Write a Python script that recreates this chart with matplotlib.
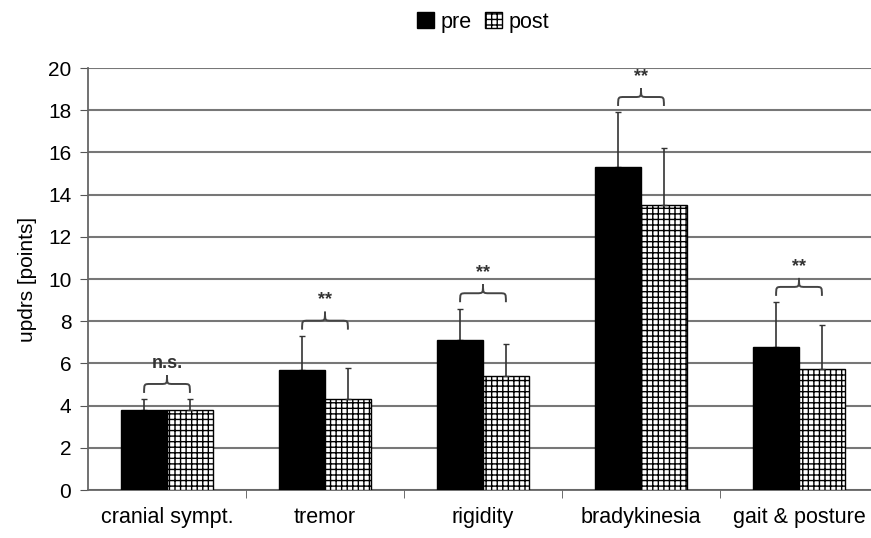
import numpy as np
import matplotlib
matplotlib.use('Agg')
import matplotlib.pyplot as plt
from matplotlib.path import Path
from matplotlib.patches import PathPatch

categories = ['cranial sympt.', 'tremor', 'rigidity', 'bradykinesia', 'gait & posture']
pre = [3.8, 5.7, 7.1, 15.3, 6.8]
post = [3.8, 4.3, 5.4, 13.5, 5.75]
pre_sd = [0.5, 1.6, 1.5, 2.6, 2.1]
post_sd = [0.5, 1.5, 1.5, 2.7, 2.05]
signif = ['n.s.', '**', '**', '**', '**']

plt.rcParams['font.family'] = ['Liberation Sans', 'DejaVu Sans']
plt.rcParams['hatch.linewidth'] = 1.0


def brace(ax, x0, x1, y0, h):
    # curly brace, ends down, tip up
    xm = (x0 + x1) / 2
    r = (x1 - x0) * 0.14
    ym = y0 + h * 0.5
    verts = [(x0, y0), (x0, ym), (x0, ym), (x0 + r, ym),
             (xm - r, ym), (xm, ym), (xm, ym), (xm, y0 + h),
             (xm, ym), (xm, ym), (xm + r, ym),
             (x1 - r, ym), (x1, ym), (x1, ym), (x1, y0)]
    codes = [Path.MOVETO, Path.CURVE4, Path.CURVE4, Path.CURVE4,
             Path.LINETO, Path.CURVE4, Path.CURVE4, Path.CURVE4,
             Path.CURVE4, Path.CURVE4, Path.CURVE4,
             Path.LINETO, Path.CURVE4, Path.CURVE4, Path.CURVE4]
    ax.add_patch(PathPatch(Path(verts, codes), fc='none', ec='#444444', lw=1.4))


fig = plt.figure(figsize=(8.71, 5.38), dpi=100)
ax = fig.add_axes([88 / 871, 1 - 490 / 538, 790 / 871, 422 / 538])

x = np.arange(len(categories))
w = 0.29
ax.bar(x - w / 2, pre, w, color='black', edgecolor='black', label='pre', zorder=3)
ax.bar(x + w / 2, post, w, color='white', edgecolor='black', hatch='+++', lw=1.0,
       label='post', zorder=3)
ax.errorbar(x - w / 2, pre, yerr=[np.zeros(5), pre_sd], fmt='none', ecolor='#333333',
            elinewidth=1.2, capsize=2.5, zorder=2)
ax.errorbar(x + w / 2, post, yerr=[np.zeros(5), post_sd], fmt='none', ecolor='#333333',
            elinewidth=1.2, capsize=2.5, zorder=4)

for i in range(len(categories)):
    top = max(pre[i] + pre_sd[i], post[i] + post_sd[i])
    base = top + 0.3
    brace(ax, x[i] - w / 2, x[i] + w / 2, base, 0.85)
    ax.text(x[i], base + 1.0, signif[i], ha='center', va='bottom',
            fontsize=13, fontweight='bold', color='#333333')

ax.set_xlim(-0.5, 4.5)
ax.set_ylim(0, 20)
ax.set_yticks(np.arange(0, 21, 2))
ax.yaxis.grid(True, color='#777777', lw=1.5, zorder=0)
ax.set_axisbelow(True)
ax.set_xticks(x)
ax.set_xticklabels(categories, fontsize=15.5)
ax.set_xticks(np.arange(0.5, 4.6, 1), minor=True)
ax.tick_params(axis='x', which='major', length=0, pad=12)
ax.tick_params(axis='x', which='minor', length=6, color='#555555', direction='out')
ax.tick_params(axis='y', labelsize=15, length=6, color='#555555', pad=6)
for s in ['top', 'right']:
    ax.spines[s].set_visible(False)
for s in ['left', 'bottom']:
    ax.spines[s].set_color('#666666')
    ax.spines[s].set_linewidth(1.3)
ax.set_ylabel('updrs [points]', fontsize=15, labelpad=8)

ax.legend(loc='center', bbox_to_anchor=(0.5, 1.109), ncol=2, frameon=False,
          fontsize=15.5, handlelength=0.8, handleheight=0.8, handletextpad=0.3,
          columnspacing=0.6)

fig.savefig('out.png', dpi=100)
